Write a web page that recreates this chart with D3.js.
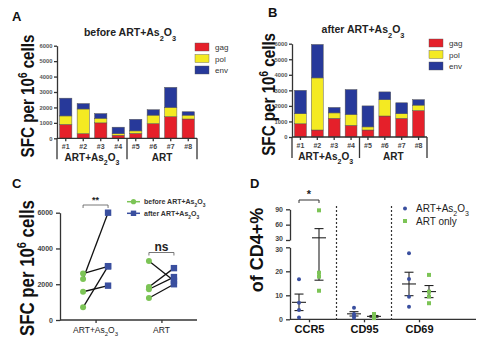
<!DOCTYPE html>
<html>
<head>
<meta charset="utf-8">
<script src="https://cdn.jsdelivr.net/npm/d3@7"></script>
<style>
  body { margin: 0; background: #fff; }
  svg { display: block; font-family: "Liberation Sans", Arial, sans-serif; }
</style>
</head>
<body>
<svg id="fig" width="483" height="346"></svg>
<script>
// ---- data ----
const patients = ["#1", "#2", "#3", "#4", "#5", "#6", "#7", "#8"];
const antigens = ["gag", "pol", "env"];
const yTicksSFC = [0, 1000, 2000, 3000, 4000, 5000, 6000];

// SFC per 10^6 cells, per antigen segment
const gagBefore = [900, 300, 1000, 200, 320, 950, 1400, 1250];
const polBefore = [550, 1600, 300, 100, 160, 550, 600, 250];
const envBefore = [1150, 350, 300, 420, 750, 350, 1300, 220];

const gagAfter = [850, 450, 1200, 750, 450, 1350, 1200, 1700];
const polAfter = [650, 3350, 350, 700, 200, 1050, 300, 350];
const envAfter = [1500, 2150, 350, 1600, 1350, 500, 700, 350];

// panel C: total response per patient
const groupsC = ["ART+As2O3", "ART"];
const beforeArs = [2600, 2290, 1580, 710];
const afterArs = [3000, 6000, 1920, 3010];
const beforeArt = [1230, 1850, 3300, 1720];
const afterArt = [2000, 2900, 2200, 2400];
const yTicksC = [0, 2000, 4000, 6000];

// panel D: % of CD4+
const markers = ["CCR5", "CD95", "CD69"];
const arsD = [[16.7, 6.9, 3.9, 0.8], [4.8, 2.2, 1.5, 0.6], [27.5, 16.8, 9.4, 5.2]];
const artD = [[88, 19.4, 17.8, 11.9], [2.2, 1.2, 1.0, 0.5], [18.5, 11.5, 9.5, 6.7]];
const yTicksLow = [0, 10, 20, 30];
const yTicksHigh = [30, 60, 90];

const colors = { gag: "#e5202a", pol: "#f4ea22", env: "#27399a" };
const green = "#7cc456", blue = "#3a4f9f";

const svg = d3.select("#fig");
svg.append("rect").attr("width", 483).attr("height", 346).attr("fill", "#fff");

// text with As2O3 subscripts
function chemText(sel, pre, post) {
  sel.append("tspan").text(pre + "As");
  sel.append("tspan").text("2").attr("baseline-shift", "sub").attr("font-size", "70%");
  sel.append("tspan").text("O");
  sel.append("tspan").text("3").attr("baseline-shift", "sub").attr("font-size", "70%");
  if (post) sel.append("tspan").text(post);
}

// big rotated axis title, slightly condensed
function sfcLabel(g, x, y, size) {
  const t = g.append("text")
    .attr("transform", `translate(${x},${y}) rotate(-90) scale(0.8,1)`)
    .attr("text-anchor", "middle")
    .attr("font-weight", "bold").attr("font-size", size).attr("fill", "#111");
  t.append("tspan").text("SFC per 10");
  t.append("tspan").text("6").attr("baseline-shift", "super").attr("font-size", "65%");
  t.append("tspan").text(" cells");
}

function panelLetter(x, y, s) {
  svg.append("text").attr("x", x).attr("y", y).text(s)
    .attr("font-weight", "bold").attr("font-size", 13).attr("fill", "#111");
}

function styleAxis(ax, fs) {
  ax.selectAll("path, line").attr("stroke", "#333").attr("stroke-width", 1.3);
  ax.selectAll("text").attr("font-size", fs).attr("font-weight", "bold").attr("fill", "#444");
}

// ---- stacked bar panels (A, B) ----
function stackedPanel(cfg) {
  const g = svg.append("g");
  const x = d3.scaleBand().domain(patients).range([cfg.x0, cfg.x1])
    .paddingInner(0.3).paddingOuter(0.15);
  const y = d3.scaleLinear().domain([0, 6000]).range([cfg.y0, cfg.y1]);

  const rows = patients.map((p, i) => ({ p, gag: cfg.gag[i], pol: cfg.pol[i], env: cfg.env[i] }));
  const series = d3.stack().keys(antigens)(rows);

  g.selectAll("g.layer").data(series).join("g")
    .attr("fill", d => colors[d.key])
    .selectAll("rect").data(d => d).join("rect")
    .attr("x", d => x(d.data.p))
    .attr("y", d => y(d[1]))
    .attr("width", x.bandwidth())
    .attr("height", d => y(d[0]) - y(d[1]))
    .attr("stroke", "#555").attr("stroke-width", 0.5);

  const ay = g.append("g").attr("transform", `translate(${cfg.x0},0)`)
    .call(d3.axisLeft(y).tickValues(yTicksSFC).tickFormat(d3.format("d")).tickSize(3).tickPadding(1.5).tickSizeOuter(0));
  styleAxis(ay, 5.8);
  ay.selectAll("text").attr("fill", "#555");

  const ax = g.append("g").attr("transform", `translate(0,${cfg.y0})`)
    .call(d3.axisBottom(x).tickSize(3).tickSizeOuter(0));
  styleAxis(ax, 7);
  ax.select(".domain").remove();
  g.append("line").attr("x1", cfg.x0).attr("x2", cfg.x1).attr("y1", cfg.y0).attr("y2", cfg.y0)
    .attr("stroke", "#333").attr("stroke-width", 1.3);

  // group brackets
  const step = x.step();
  const divX = x("#5") - (step - x.bandwidth()) / 2;
  [cfg.x0, divX, cfg.x1].forEach(d => {
    g.append("line").attr("x1", d).attr("x2", d).attr("y1", cfg.y0).attr("y2", cfg.y0 + 21)
      .attr("stroke", "#333").attr("stroke-width", 1.3);
  });
  const gl = g.append("text").attr("x", (cfg.x0 + divX) / 2).attr("y", cfg.y0 + 23)
    .attr("text-anchor", "middle").attr("font-size", 10).attr("font-weight", "bold").attr("fill", "#222");
  chemText(gl, "ART+", "");
  g.append("text").attr("x", (divX + cfg.x1) / 2).attr("y", cfg.y0 + 23)
    .attr("text-anchor", "middle").attr("font-size", 10).attr("font-weight", "bold").attr("fill", "#222")
    .text("ART");

  // title
  const t = g.append("text").attr("x", cfg.tx).attr("y", cfg.ty).attr("text-anchor", "middle")
    .attr("font-size", 10.5).attr("font-weight", "bold").attr("fill", "#222");
  chemText(t, cfg.title + " ART+", "");

  // legend
  antigens.forEach((k, i) => {
    g.append("rect").attr("x", cfg.lx).attr("y", cfg.ly + i * 11.5 - 4).attr("width", 14).attr("height", 8)
      .attr("fill", colors[k]).attr("stroke", "#555").attr("stroke-width", 0.4);
    g.append("text").attr("x", cfg.lx + 20).attr("y", cfg.ly + i * 11.5 + 3)
      .attr("font-size", 8).attr("fill", "#333").text(k);
  });

  sfcLabel(g, cfg.labX, (cfg.y0 + cfg.y1) / 2 + 4, 19);
}

stackedPanel({ x0: 57, x1: 197, y0: 138.3, y1: 45.7, gag: gagBefore, pol: polBefore, env: envBefore,
  title: "before", tx: 130, ty: 36, lx: 195, ly: 47, labX: 34 });
stackedPanel({ x0: 292, x1: 427, y0: 137, y1: 43.7, gag: gagAfter, pol: polAfter, env: envAfter,
  title: "after", tx: 363, ty: 33, lx: 429, ly: 43, labX: 275 });

panelLetter(12, 21, "A");
panelLetter(268, 17, "B");
panelLetter(12, 188, "C");
panelLetter(250, 188, "D");

// ---- panel C: paired before/after ----
(function () {
  const g = svg.append("g");
  const x = d3.scalePoint().domain(groupsC).range([60, 197]).padding(0.54);
  const y = d3.scaleLinear().domain([0, 6000]).range([320, 212.7]);
  const off = 12.5;

  const ay = g.append("g").attr("transform", "translate(60,0)")
    .call(d3.axisLeft(y).tickValues(yTicksC).tickFormat(d3.format("d")).tickSize(4).tickSizeOuter(0));
  styleAxis(ay, 7);
  const ax = g.append("g").attr("transform", "translate(0,320)")
    .call(d3.axisBottom(x).tickSize(3).tickSizeOuter(0).tickFormat(""));
  styleAxis(ax, 8);
  ax.select(".domain").remove();
  g.append("line").attr("x1", 60).attr("x2", 197).attr("y1", 320).attr("y2", 320)
    .attr("stroke", "#333").attr("stroke-width", 1.3);

  const lab1 = g.append("text").attr("x", x(groupsC[0])).attr("y", 333).attr("text-anchor", "middle")
    .attr("font-size", 8.5).attr("fill", "#222");
  chemText(lab1, "ART+", "");
  g.append("text").attr("x", x(groupsC[1])).attr("y", 333).attr("text-anchor", "middle")
    .attr("font-size", 8.5).attr("fill", "#222").text("ART");

  const sets = [[groupsC[0], beforeArs, afterArs], [groupsC[1], beforeArt, afterArt]];
  sets.forEach(([grp, bef, aft]) => {
    const cx = x(grp);
    const pairs = bef.map((b, i) => [b, aft[i]]);
    g.selectAll(null).data(pairs).join("line")
      .attr("x1", cx - off).attr("x2", cx + off)
      .attr("y1", d => y(d[0])).attr("y2", d => y(d[1]))
      .attr("stroke", "#111").attr("stroke-width", 1.3);
    g.selectAll(null).data(bef).join("circle")
      .attr("cx", cx - off).attr("cy", d => y(d)).attr("r", 3).attr("fill", green);
    g.selectAll(null).data(aft).join("rect")
      .attr("x", cx + off - 3.2).attr("y", d => y(d) - 3.2).attr("width", 6.4).attr("height", 6.4)
      .attr("fill", blue);
  });

  // significance
  function bracket(x1, x2, yy, label, fs) {
    g.append("path").attr("d", `M${x1},${yy + 3}V${yy}H${x2}V${yy + 3}`)
      .attr("fill", "none").attr("stroke", "#555").attr("stroke-width", 0.8);
    g.append("text").attr("x", (x1 + x2) / 2).attr("y", yy - 2).attr("text-anchor", "middle")
      .attr("font-size", fs).attr("font-weight", "bold").attr("fill", "#222").text(label);
  }
  bracket(x(groupsC[0]) - off, x(groupsC[0]) + off, 205, "**", 9);
  bracket(x(groupsC[1]) - off, x(groupsC[1]) + off, 252.5, "ns", 12);

  // legend
  [["before ", green, "c"], ["after ", blue, "s"]].forEach(([w, col, shape], i) => {
    const ly = 201.7 + i * 11.6;
    g.append("line").attr("x1", 127).attr("x2", 140).attr("y1", ly).attr("y2", ly)
      .attr("stroke", col).attr("stroke-width", 1.5);
    if (shape === "c") g.append("circle").attr("cx", 133.5).attr("cy", ly).attr("r", 2.6).attr("fill", col);
    else g.append("rect").attr("x", 130.8).attr("y", ly - 2.7).attr("width", 5.4).attr("height", 5.4).attr("fill", col);
    const t = g.append("text").attr("x", 144).attr("y", ly + 2.5).attr("font-size", 7)
      .attr("font-weight", "bold").attr("fill", "#333");
    chemText(t, w + "ART+", "");
  });

  sfcLabel(g, 34, 268, 21);
})();

// ---- panel D: scatter with broken axis ----
(function () {
  const g = svg.append("g");
  const x = d3.scalePoint().domain(markers).range([309, 419]);
  const yLow = d3.scaleLinear().domain([0, 30]).range([319.3, 247.3]);
  const yHigh = d3.scaleLinear().domain([30, 90]).range([240, 209.3]);
  const yv = v => (v <= 30 ? yLow(v) : yHigh(v));
  const off = 10;

  const a1 = g.append("g").attr("transform", "translate(290,0)")
    .call(d3.axisLeft(yLow).tickValues(yTicksLow).tickSize(4).tickSizeOuter(0));
  styleAxis(a1, 7);
  a1.selectAll(".tick text").filter(d => d === 30).attr("dy", "0.55em");
  const a2 = g.append("g").attr("transform", "translate(290,0)")
    .call(d3.axisLeft(yHigh).tickValues(yTicksHigh).tickSize(4).tickSizeOuter(0));
  styleAxis(a2, 7);
  a2.selectAll(".tick text").filter(d => d === 30).attr("dy", "0.1em");

  const ax = g.append("g").attr("transform", "translate(0,319.3)")
    .call(d3.axisBottom(x).tickSize(3).tickSizeOuter(0));
  styleAxis(ax, 11);
  ax.select(".domain").remove();
  ax.selectAll("text").attr("fill", "#111");
  g.append("line").attr("x1", 290).attr("x2", 476).attr("y1", 319.3).attr("y2", 319.3)
    .attr("stroke", "#333").attr("stroke-width", 1.3);

  // dotted separators
  [(x("CCR5") + x("CD95")) / 2, (x("CD95") + x("CD69")) / 2].forEach(d => {
    g.append("line").attr("x1", d).attr("x2", d).attr("y1", 206).attr("y2", 319)
      .attr("stroke", "#333").attr("stroke-width", 1.2).attr("stroke-dasharray", "2,2");
  });

  function meanSem(vals, cx) {
    const m = d3.mean(vals);
    const sem = d3.deviation(vals) / Math.sqrt(vals.length);
    const s = g.append("g").attr("stroke", "#222").attr("stroke-width", 1.1);
    s.append("line").attr("x1", cx).attr("x2", cx).attr("y1", yv(m - sem)).attr("y2", yv(m + sem));
    s.append("line").attr("x1", cx - 7).attr("x2", cx + 7).attr("y1", yv(m)).attr("y2", yv(m));
    [m - sem, m + sem].forEach(v => {
      s.append("line").attr("x1", cx - 4.5).attr("x2", cx + 4.5).attr("y1", yv(v)).attr("y2", yv(v));
    });
  }

  markers.forEach((mk, i) => {
    const cb = x(mk) - off, cg = x(mk) + off;
    meanSem(arsD[i], cb);
    meanSem(artD[i], cg);
    g.selectAll(null).data(arsD[i]).join("circle")
      .attr("cx", cb).attr("cy", d => yv(d)).attr("r", 2).attr("fill", blue);
    g.selectAll(null).data(artD[i]).join("rect")
      .attr("x", cg - 2).attr("y", d => yv(d) - 2).attr("width", 4).attr("height", 4)
      .attr("fill", green);
  });

  // significance
  const bx1 = x("CCR5") - off, bx2 = x("CCR5") + off;
  g.append("path").attr("d", `M${bx1},${203}V${200}H${bx2}V${203}`)
    .attr("fill", "none").attr("stroke", "#333").attr("stroke-width", 1);
  g.append("text").attr("x", (bx1 + bx2) / 2).attr("y", 198).attr("text-anchor", "middle")
    .attr("font-size", 11).attr("font-weight", "bold").attr("fill", "#222").text("*");

  // legend
  g.append("circle").attr("cx", 405).attr("cy", 208.5).attr("r", 2).attr("fill", blue);
  const lt = g.append("text").attr("x", 416).attr("y", 212).attr("font-size", 10).attr("fill", "#222");
  chemText(lt, "ART+", "");
  g.append("rect").attr("x", 403).attr("y", 219).attr("width", 4).attr("height", 4).attr("fill", green);
  g.append("text").attr("x", 416).attr("y", 225).attr("font-size", 10).attr("fill", "#222").text("ART only");

  g.append("text").attr("transform", "translate(263,250) rotate(-90)").attr("text-anchor", "middle")
    .attr("font-size", 18).attr("font-weight", "bold").attr("fill", "#111").text("of CD4+%");
})();
</script>
</body>
</html>
